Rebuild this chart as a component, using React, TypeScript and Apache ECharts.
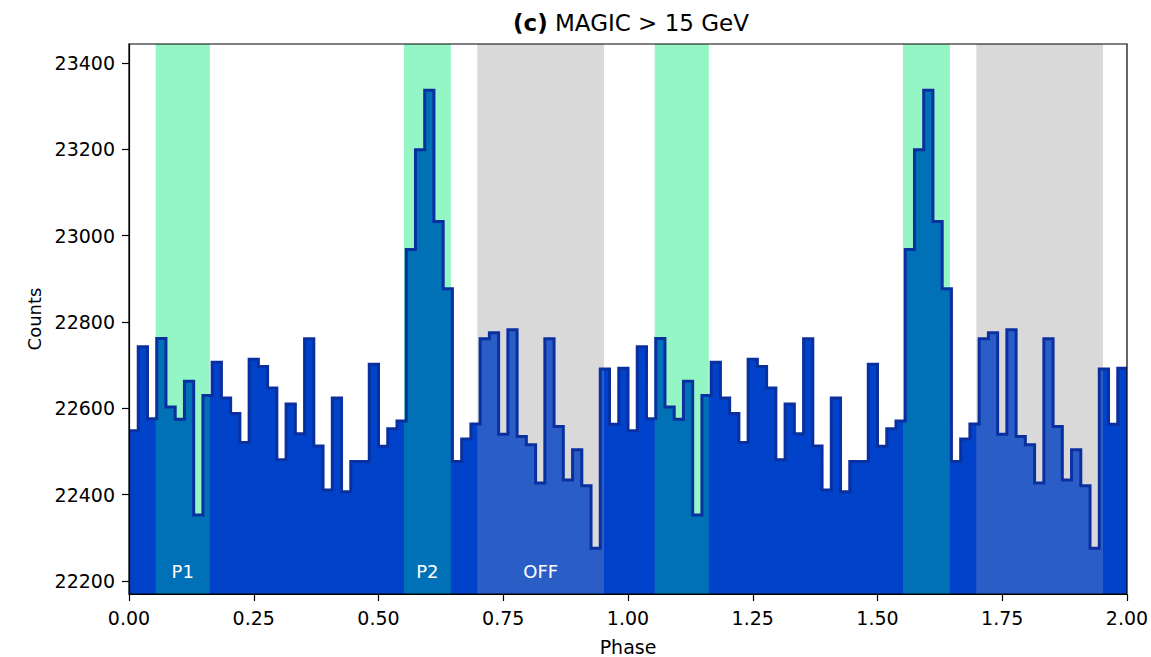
import React, { useEffect, useRef } from "react";
import * as echarts from "echarts";

// ---- data ----
const BINS_PER_CYCLE = 54;
const CYCLES = 2;
// counts per phase bin, one rotation (phase 0..1), shown twice
const countsPerCycle = [
  22548, 22743, 22576, 22762, 22603, 22575, 22663, 22353, 22630, 22707,
  22624, 22588, 22521, 22714, 22697, 22647, 22481, 22610, 22541, 22761,
  22513, 22411, 22624, 22407, 22477, 22477, 22702, 22512, 22553, 22571,
  22968, 23199, 23337, 23033, 22877, 22477, 22529, 22564, 22761, 22775,
  22540, 22782, 22535, 22516, 22427, 22761, 22558, 22434, 22504, 22421,
  22276, 22691, 22563, 22693,
];
const bandNames = ["P1", "P2", "OFF"];
const bandStarts = [0.0535, 0.551, 0.698];
const bandEnds = [0.162, 0.645, 0.952];
const yTickValues = [22200, 22400, 22600, 22800, 23000, 23200, 23400];
const Y_MIN = 22170;
const Y_MAX = 23444;
const LABEL_Y = 22223;

// ---- styles ----
const FONT = "DejaVu Sans";
const bandColors = ["#94F6C5", "#94F6C5", "#D9D9D9"];
const overlapColors = ["#0070B7", "#0070B7", "#2B5DC6"];
const FILL = "#0042C9";
const OUTLINE = "#0A30A0";

const allCounts: number[] = [];
for (let c = 0; c < CYCLES; c++) allCounts.push(...countsPerCycle);
const NB = allCounts.length;
const stepData: number[][] = allCounts.map((v, i) => [i / BINS_PER_CYCLE, v]);
stepData.push([CYCLES, allCounts[NB - 1]]);

const bandData: number[][] = [];
for (let c = 0; c < CYCLES; c++) {
  bandNames.forEach((_, i) => {
    bandData.push([bandStarts[i] + c, bandEnds[i] + c, i, Y_MIN, Y_MAX]);
  });
}

function binAt(x: number) {
  return Math.max(0, Math.min(NB - 1, Math.floor(x * BINS_PER_CYCLE + 1e-9)));
}

export default function App() {
  const ref = useRef<HTMLDivElement>(null);
  useEffect(() => {
    if (!ref.current) return;
    const chart = echarts.init(ref.current, null, { renderer: "svg" });
    const option: any = {
      animation: false,
      backgroundColor: "#fff",
      title: {
        text: "{b|(c)} {n|MAGIC > 15 GeV}",
        left: 626,
        top: 6,
        textAlign: "center",
        textStyle: {
          fontWeight: "normal",
          fontFamily: FONT,
          fontSize: 23,
          rich: {
            b: { fontFamily: FONT, fontSize: 23, fontWeight: "bold", color: "#000" },
            n: { fontFamily: FONT, fontSize: 23, fontWeight: "normal", color: "#000" },
          },
        },
      },
      grid: {
        left: 129,
        right: 24,
        top: 44,
        bottom: 63,
        outerBoundsMode: "none",
        containLabel: false,
        show: true,
        z: 20,
        backgroundColor: "transparent",
        borderColor: "#000",
        borderWidth: 1.2,
      },
      xAxis: {
        type: "value",
        min: 0,
        max: 2,
        interval: 0.25,
        z: 20,
        name: "Phase",
        nameLocation: "middle",
        nameGap: 43,
        nameTextStyle: { fontFamily: FONT, fontSize: 19, color: "#000" },
        axisLine: { show: true, lineStyle: { color: "#000", width: 1.2 } },
        axisTick: { show: true, inside: false, length: 7, lineStyle: { color: "#000", width: 1.2 } },
        axisLabel: {
          margin: 14,
          fontFamily: FONT,
          fontSize: 19,
          color: "#000",
          formatter: (v: number) => v.toFixed(2),
        },
        splitLine: { show: false },
      },
      yAxis: {
        type: "value",
        min: Y_MIN,
        max: Y_MAX,
        z: 20,
        name: "Counts",
        nameLocation: "middle",
        nameGap: 86,
        nameRotate: 90,
        nameTextStyle: { fontFamily: FONT, fontSize: 18, color: "#000" },
        axisLine: { show: true, lineStyle: { color: "#000", width: 1.2 } },
        axisTick: {
          show: true,
          length: 7,
          customValues: yTickValues,
          lineStyle: { color: "#000", width: 1.2 },
        },
        axisLabel: {
          margin: 14,
          fontFamily: FONT,
          fontSize: 19,
          color: "#000",
          customValues: yTickValues,
          formatter: (v: number) => String(Math.round(v)),
        },
        splitLine: { show: false },
      },
      series: [
        {
          type: "custom",
          name: "bands",
          z: 1,
          clip: true,
          encode: { x: [0, 1], y: [3, 4] },
          data: bandData,
          renderItem: (params: any, api: any) => {
            const x0 = api.value(0);
            const x1 = api.value(1);
            const idx = api.value(2);
            const p0 = api.coord([x0, Y_MAX]);
            const p1 = api.coord([x1, Y_MIN]);
            return {
              type: "rect",
              shape: { x: p0[0], y: p0[1], width: p1[0] - p0[0], height: p1[1] - p0[1] },
              style: { fill: bandColors[idx] },
            };
          },
        },
        {
          type: "line",
          name: "fill",
          z: 2,
          step: "end",
          showSymbol: false,
          data: stepData,
          lineStyle: { width: 0, opacity: 0 },
          areaStyle: { color: FILL, opacity: 1, origin: "start" },
        },
        {
          type: "custom",
          name: "overlap",
          z: 3,
          clip: true,
          encode: { x: [0, 1], y: [3, 4] },
          data: bandData,
          renderItem: (params: any, api: any) => {
            const x0 = api.value(0);
            const x1 = api.value(1);
            const idx = api.value(2);
            const pts: number[][] = [];
            pts.push(api.coord([x0, Y_MIN]));
            const i0 = binAt(x0);
            pts.push(api.coord([x0, allCounts[i0]]));
            for (let k = i0 + 1; k / BINS_PER_CYCLE < x1 - 1e-9; k++) {
              const e = k / BINS_PER_CYCLE;
              pts.push(api.coord([e, allCounts[k - 1]]));
              pts.push(api.coord([e, allCounts[k]]));
            }
            const i1 = Math.max(0, Math.min(NB - 1, Math.floor(x1 * BINS_PER_CYCLE - 1e-9)));
            pts.push(api.coord([x1, allCounts[i1]]));
            pts.push(api.coord([x1, Y_MIN]));
            return {
              type: "polygon",
              shape: { points: pts },
              style: { fill: overlapColors[idx] },
            };
          },
        },
        {
          type: "line",
          name: "outline",
          z: 4,
          step: "end",
          showSymbol: false,
          data: stepData,
          lineStyle: { width: 3, color: OUTLINE, join: "miter" },
        },
        {
          type: "scatter",
          name: "labels",
          z: 5,
          symbolSize: 0,
          itemStyle: { opacity: 1 },
          data: bandNames.map((n, i) => ({
            name: n,
            value: [(bandStarts[i] + bandEnds[i]) / 2, LABEL_Y],
          })),
          label: {
            show: true,
            position: "inside",
            formatter: "{b}",
            color: "#ffffff",
            opacity: 1,
            fontFamily: FONT,
            fontSize: 18,
          },
        },
      ],
    };
    chart.setOption(option);
    return () => chart.dispose();
  }, []);
  return (
    <div
      ref={ref}
      style={{ position: "fixed", left: 0, top: 0, width: 1151, height: 657 }}
    />
  );
}
